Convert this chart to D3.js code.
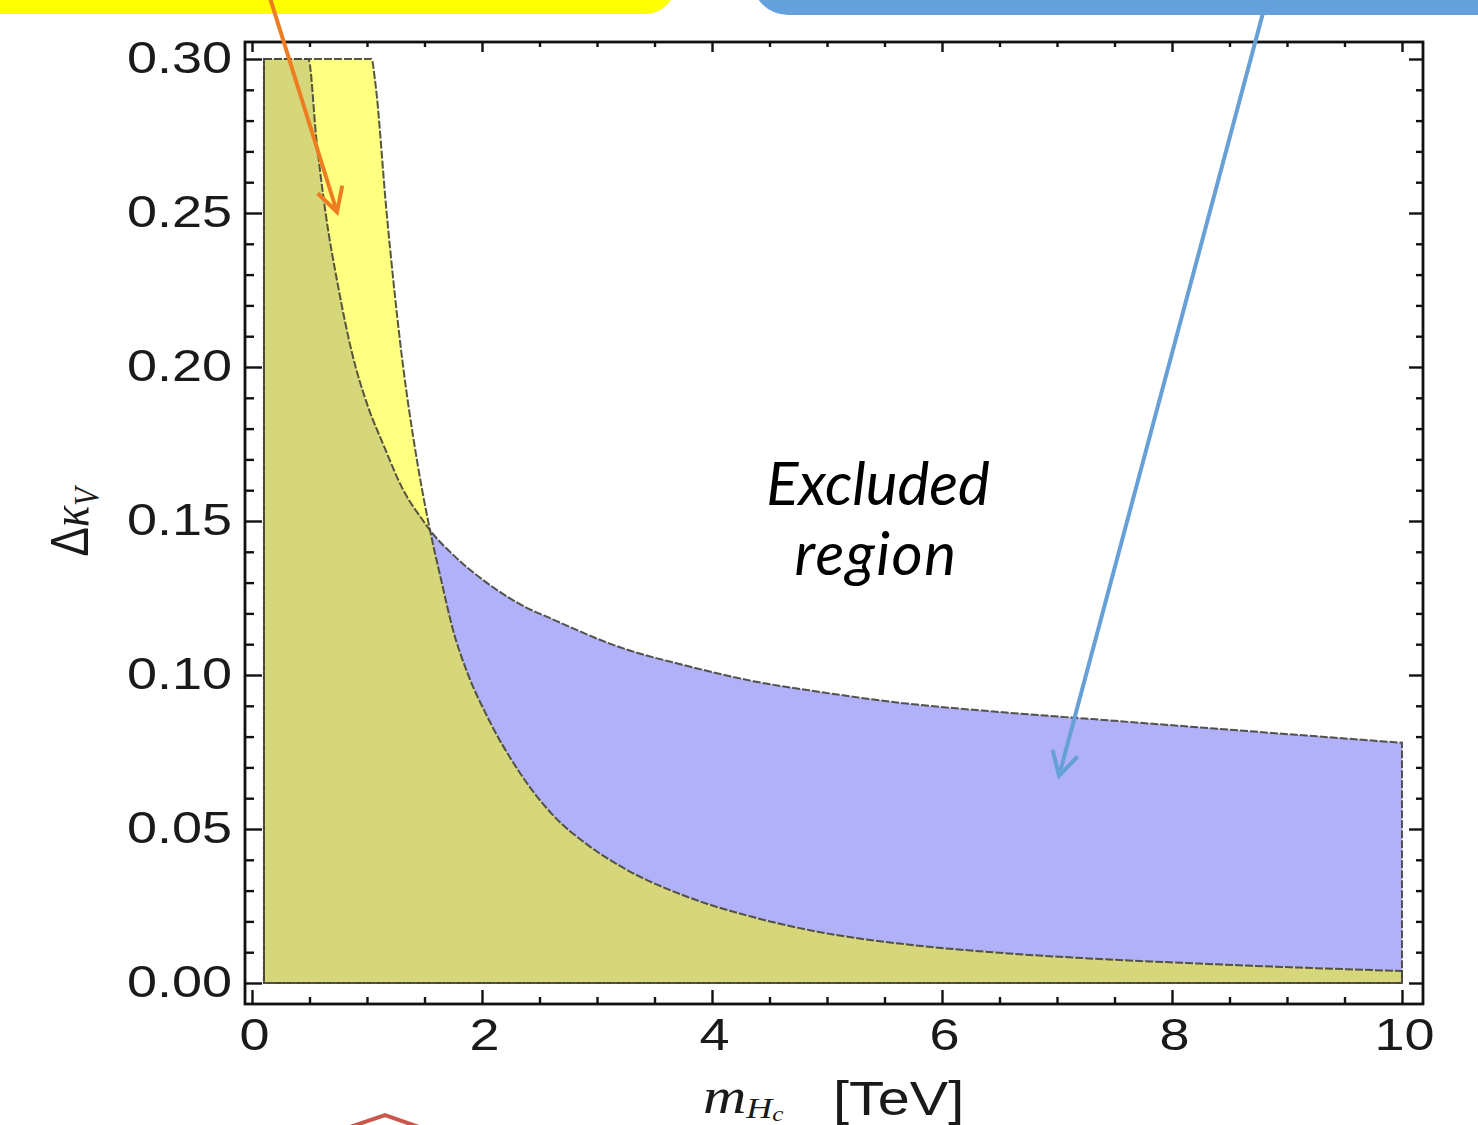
<!DOCTYPE html>
<html>
<head>
<meta charset="utf-8">
<script src="https://cdn.jsdelivr.net/npm/d3@7"></script>
<style>
  body { margin: 0; background: #fff; }
  svg { display: block; }
</style>
</head>
<body>
<svg id="chart" width="1478" height="1125"></svg>
<script>
// upper edge of the blue band (also top of the olive overlap on the left)
const blueMass = [0.104, 0.49, 0.56, 0.64, 0.75, 0.867, 1.01, 1.14, 1.316, 1.49, 1.548, 1.75, 2.04, 2.33, 2.62, 3.2, 3.78, 4.36, 4.94, 5.63, 6.5, 7.37, 8.24, 9.11, 10];
const blueKappa = [0.30, 0.30, 0.274, 0.25, 0.226, 0.205, 0.187, 0.175, 0.160, 0.150, 0.147, 0.139, 0.130, 0.123, 0.118, 0.109, 0.103, 0.098, 0.0945, 0.091, 0.088, 0.0855, 0.083, 0.0805, 0.078];

// upper edge of the yellow region (lower edge of the blue band on the right)
const yellowMass = [0.104, 1.04, 1.07, 1.171, 1.316, 1.403, 1.48, 1.548, 1.65, 1.748, 1.87, 2.043, 2.33, 2.617, 2.913, 3.2, 3.783, 4.357, 4.939, 5.63, 6.5, 7.37, 8.24, 9.11, 10];
const yellowKappa = [0.30, 0.30, 0.293, 0.25, 0.1996, 0.177, 0.160, 0.147, 0.130, 0.1146, 0.101, 0.0867, 0.0682, 0.0545, 0.0450, 0.0380, 0.0280, 0.0214, 0.0165, 0.0128, 0.0098, 0.0078, 0.0063, 0.0050, 0.0039];

const xTicks = [0, 2, 4, 6, 8, 10];
const xMinorTicks = [0.5, 1, 1.5, 2.5, 3, 3.5, 4.5, 5, 5.5, 6.5, 7, 7.5, 8.5, 9, 9.5];
const yTicks = [0, 0.05, 0.10, 0.15, 0.20, 0.25, 0.30];
const yMinorTicks = [0.01, 0.02, 0.03, 0.04, 0.06, 0.07, 0.08, 0.09, 0.11, 0.12, 0.13, 0.14,
  0.16, 0.17, 0.18, 0.19, 0.21, 0.22, 0.23, 0.24, 0.26, 0.27, 0.28, 0.29];

const svg = d3.select("#chart");

// frame box (Mathematica pads the frame a bit past the data range)
const frame = { left: 245, right: 1423, top: 42, bottom: 1004 };

const x = d3.scaleLinear().domain([0, 10]).range([252, 1402]);
const y = d3.scaleLinear().domain([0, 0.3]).range([983, 59]);

const stretch = 1.2; // the picture is a bit wider than tall, text looks stretched

// banners at the top
svg.append("rect")
  .attr("x", -40).attr("y", -60).attr("width", 715).attr("height", 74)
  .attr("rx", 30).attr("fill", "#ffff00");
svg.append("rect")
  .attr("x", 752).attr("y", -60).attr("width", 780).attr("height", 75)
  .attr("rx", 36).attr("fill", "#64a0dc");

const blueData = blueMass.map((m, i) => [m, blueKappa[i]]);
const yellowData = yellowMass.map((m, i) => [m, yellowKappa[i]]);

const area = d3.area()
  .x(d => x(d[0]))
  .y0(y(0))
  .y1(d => y(d[1]))
  .curve(d3.curveMonotoneX);

svg.append("clipPath").attr("id", "clipYellow")
  .append("path").attr("d", area(yellowData));

svg.append("path").attr("d", area(blueData)).attr("fill", "#b1b1f9");
svg.append("path").attr("d", area(yellowData)).attr("fill", "#ffff80");
svg.append("path").attr("d", area(blueData))
  .attr("fill", "#d6d67a")
  .attr("clip-path", "url(#clipYellow)");

// region outlines
[blueData, yellowData].forEach(data => {
  svg.append("path")
    .attr("d", area(data))
    .attr("fill", "none")
    .attr("stroke", "#444438")
    .attr("stroke-opacity", 0.9)
    .attr("stroke-width", 2)
    .attr("stroke-dasharray", "8 2");
});

// frame
svg.append("rect")
  .attr("x", frame.left).attr("y", frame.top)
  .attr("width", frame.right - frame.left).attr("height", frame.bottom - frame.top)
  .attr("fill", "none").attr("stroke", "#111").attr("stroke-width", 2.8);

function styleAxis(g) {
  g.select(".domain").remove();
  g.selectAll(".tick line").attr("stroke", "#111").attr("stroke-width", 2.4);
}

// major + minor ticks on all four sides, pointing inward
svg.append("g").attr("transform", `translate(0,${frame.bottom})`)
  .call(d3.axisBottom(x).tickValues(xMinorTicks).tickSize(-7).tickFormat(""))
  .call(styleAxis);
const xAxis = svg.append("g").attr("transform", `translate(0,${frame.bottom})`)
  .call(d3.axisBottom(x).tickValues(xTicks).tickSize(-14).tickFormat(d3.format("d")))
  .call(styleAxis);
svg.append("g").attr("transform", `translate(0,${frame.top})`)
  .call(d3.axisTop(x).tickValues(xMinorTicks).tickSize(-5).tickFormat(""))
  .call(styleAxis);
svg.append("g").attr("transform", `translate(0,${frame.top})`)
  .call(d3.axisTop(x).tickValues(xTicks).tickSize(-10).tickFormat(""))
  .call(styleAxis);

svg.append("g").attr("transform", `translate(${frame.left},0)`)
  .call(d3.axisLeft(y).tickValues(yMinorTicks).tickSize(-9).tickFormat(""))
  .call(styleAxis);
const yAxis = svg.append("g").attr("transform", `translate(${frame.left},0)`)
  .call(d3.axisLeft(y).tickValues(yTicks).tickSize(-17).tickFormat(d3.format(".2f")))
  .call(styleAxis);
svg.append("g").attr("transform", `translate(${frame.right},0)`)
  .call(d3.axisRight(y).tickValues(yMinorTicks).tickSize(-7).tickFormat(""))
  .call(styleAxis);
svg.append("g").attr("transform", `translate(${frame.right},0)`)
  .call(d3.axisRight(y).tickValues(yTicks).tickSize(-14).tickFormat(""))
  .call(styleAxis);

// text sits inside the tick groups, already moved to the tick position
xAxis.selectAll(".tick text")
  .attr("font-family", "Liberation Sans, Arial, sans-serif")
  .attr("font-size", 45)
  .attr("fill", "#1a1a1a")
  .attr("x", 0).attr("y", 0).attr("dy", 0)
  .attr("transform", `translate(2,46) scale(${stretch},1)`);

yAxis.selectAll(".tick text")
  .attr("font-family", "Liberation Sans, Arial, sans-serif")
  .attr("font-size", 45)
  .attr("fill", "#1a1a1a")
  .attr("x", 0).attr("dy", "0.3em")
  .attr("transform", `translate(-13,0) scale(${stretch},1)`);

// y axis title: Δκ_V
const yTitle = svg.append("text")
  .attr("transform", `translate(88,522) scale(${stretch},1) rotate(-90)`)
  .attr("text-anchor", "middle")
  .attr("font-family", "Liberation Serif, DejaVu Serif, serif")
  .attr("font-size", 44)
  .attr("fill", "#1a1a1a");
yTitle.append("tspan").attr("font-family", "Liberation Sans, sans-serif").text("Δ");
yTitle.append("tspan").attr("font-style", "italic").text("κ");
yTitle.append("tspan").attr("font-style", "italic").attr("font-size", 30).attr("dy", 9).text("V");

// x axis title: m_Hc [TeV], right at the bottom edge as in the slide
const xTitle = svg.append("text")
  .attr("transform", `translate(703,1113) scale(${stretch},1)`)
  .attr("font-family", "Liberation Serif, DejaVu Serif, serif")
  .attr("font-size", 50)
  .attr("fill", "#1a1a1a");
xTitle.append("tspan").attr("font-style", "italic").text("m");
xTitle.append("tspan").attr("font-style", "italic").attr("font-size", 30).attr("dy", 5).text("H");
xTitle.append("tspan").attr("font-style", "italic").attr("font-size", 21).attr("dy", 3).text("c");

svg.append("text")
  .attr("transform", `translate(833,1115) scale(${stretch},1)`)
  .attr("font-family", "Liberation Sans, Arial, sans-serif")
  .attr("font-size", 48)
  .attr("fill", "#1a1a1a")
  .text("[TeV]");

// annotation text
const note = svg.append("g")
  .attr("font-family", "Lato, 'Open Sans', sans-serif")
  .attr("font-style", "italic")
  .attr("font-size", 60)
  .attr("fill", "#000")
  .attr("text-anchor", "middle");
note.append("text").attr("x", 878).attr("y", 505).text("Excluded");
note.append("text").attr("x", 876).attr("y", 575).attr("letter-spacing", 1.5).text("region");

// arrows
function arrow(x1, y1, x2, y2, color, width) {
  const ang = Math.atan2(y2 - y1, x2 - x1);
  const len = 27, spread = 0.5;
  svg.append("line")
    .attr("x1", x1).attr("y1", y1).attr("x2", x2).attr("y2", y2)
    .attr("stroke", color).attr("stroke-width", width);
  const p1 = [x2 - len * Math.cos(ang - spread), y2 - len * Math.sin(ang - spread)];
  const p2 = [x2 - len * Math.cos(ang + spread), y2 - len * Math.sin(ang + spread)];
  svg.append("path")
    .attr("d", `M${p1[0]},${p1[1]}L${x2},${y2}L${p2[0]},${p2[1]}`)
    .attr("fill", "none").attr("stroke", color).attr("stroke-width", width)
    .attr("stroke-linejoin", "miter");
}
arrow(270, -2, 337, 212, "#ee7d22", 4);
arrow(1267, -2, 1059, 776, "#66a0d6", 4);

// edge of a shape peeking in at the bottom
svg.append("path")
  .attr("d", "M350,1127L385,1115L419,1127")
  .attr("fill", "none").attr("stroke", "#c9574c").attr("stroke-width", 4);
</script>
</body>
</html>
